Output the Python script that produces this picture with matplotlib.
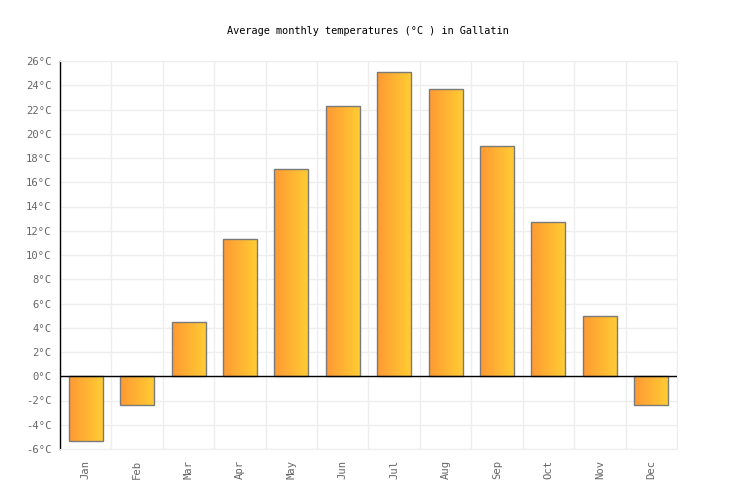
import numpy as np
import matplotlib
matplotlib.use("Agg")
import matplotlib.pyplot as plt
from matplotlib.colors import LinearSegmentedColormap

months = ["Jan", "Feb", "Mar", "Apr", "May", "Jun", "Jul", "Aug", "Sep", "Oct", "Nov", "Dec"]
temps = [-5.3, -2.4, 4.5, 11.3, 17.1, 22.3, 25.1, 23.7, 19.0, 12.7, 5.0, -2.4]
yticks = list(range(-6, 27, 2))
ytick_labels = [f"{v}°C" for v in yticks]
title = "Average monthly temperatures (°C ) in Gallatin"

plt.rcParams['font.family'] = ['DejaVu Sans Mono']

fig = plt.figure(figsize=(7.36, 5.0), dpi=100)
ax = fig.add_axes([60/736, 51/500, 617/736, 388/500])

x = np.arange(len(months))
bars = ax.bar(x, temps, width=0.66, facecolor='none', edgecolor='#7a7a7a', linewidth=1.0, zorder=3)

cmap = LinearSegmentedColormap.from_list("g", ["#ff9933", "#ffcc33"])
grad = np.linspace(0, 1, 64).reshape(1, -1)
for b in bars:
    x0, y0 = b.get_x(), b.get_y()
    w, h = b.get_width(), b.get_height()
    im = ax.imshow(grad, cmap=cmap, aspect='auto',
                   extent=[x0, x0 + w, min(y0, y0 + h), max(y0, y0 + h)],
                   zorder=2, interpolation='bilinear')
    im.set_clip_path(b)

ax.set_xlim(-0.5, len(months) - 0.5)
ax.set_ylim(-6, 26)
ax.set_yticks(yticks)
ax.set_yticklabels(ytick_labels)
ax.set_xticks(x)
ax.set_xticklabels(months, rotation=90)
ax.set_xticks(np.arange(-0.5, len(months), 1), minor=True)

ax.grid(True, which='minor', axis='x', color='#eeeeee', linewidth=1, zorder=0)
ax.grid(True, which='major', axis='y', color='#eeeeee', linewidth=1, zorder=0)
ax.tick_params(axis='both', which='both', length=0, labelsize=7.6, colors='#666666', pad=6)
ax.tick_params(axis='x', pad=8)

ax.axhline(0, color='black', linewidth=1.0, zorder=4)
for s in ['top', 'right', 'bottom']:
    ax.spines[s].set_color('#eeeeee')
ax.spines['left'].set_color('black')
ax.spines['left'].set_linewidth(1.0)

fig.text(368/736, 1 - 31/500, title, ha='center', va='center', fontsize=7.4, color='black')

fig.savefig("out.png", dpi=100)
